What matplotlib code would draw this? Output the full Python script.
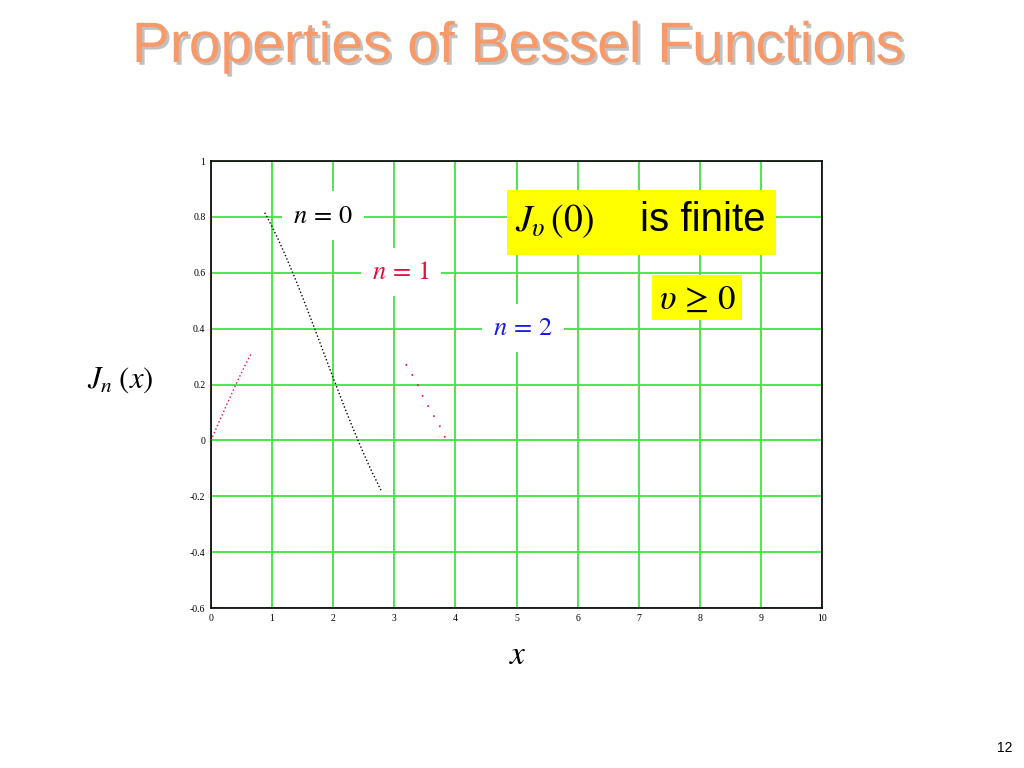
import matplotlib
matplotlib.use('Agg')
import matplotlib.pyplot as plt
import matplotlib.patheffects as pe
from matplotlib.patches import Rectangle

plt.rcParams['mathtext.fontset'] = 'stix'

# values (only the visible dotted pieces)
j0_x = [0.88, 0.9, 1.0, 1.1, 1.2, 1.3, 1.4, 1.5, 1.6, 1.7, 1.8, 1.9, 2.0,
        2.1, 2.2, 2.3, 2.4, 2.5, 2.6, 2.7, 2.78]
j0_y = [0.815, 0.807, 0.765, 0.720, 0.671, 0.620, 0.567, 0.512, 0.455, 0.398,
        0.340, 0.282, 0.224, 0.167, 0.110, 0.056, 0.003, -0.048, -0.097,
        -0.142, -0.178]

j1a_x = [0.0, 0.05, 0.1, 0.15, 0.2, 0.25, 0.3, 0.35, 0.4, 0.45, 0.5, 0.55,
         0.6, 0.65]
j1a_y = [0.0, 0.025, 0.050, 0.075, 0.099, 0.124, 0.148, 0.172, 0.196, 0.220,
         0.242, 0.265, 0.287, 0.308]

j1b_x = [3.19, 3.37, 3.47, 3.58, 3.72, 3.88]
j1b_y = [0.273, 0.205, 0.155, 0.112, 0.062, -0.013]

x_ticks = [0, 1, 2, 3, 4, 5, 6, 7, 8, 9, 10]
y_ticks = [-0.6, -0.4, -0.2, 0, 0.2, 0.4, 0.6, 0.8, 1]
y_tick_labels = ['-0.6', '-0.4', '-0.2', '0', '0.2', '0.4', '0.6', '0.8', '1']

green = '#3ee63e'
red = '#e0103c'
blue = '#1a1ae6'

fig = plt.figure(figsize=(10.24, 7.68), dpi=100)
ax = fig.add_axes([0.206, 0.2083, 0.597, 0.582])

ax.plot(j0_x, j0_y, color='black', lw=1.0, ls=(0, (1, 1.6)), zorder=3)
ax.plot(j1a_x, j1a_y, color=red, lw=1.0, ls=(0, (1, 1.8)), zorder=3)
ax.plot(j1b_x, j1b_y, color=red, lw=1.2, ls=(0, (1, 6)), zorder=3)

ax.set_xlim(0, 10)
ax.set_ylim(-0.6, 1)
ax.set_xticks(x_ticks)
ax.set_yticks(y_ticks)
ax.set_yticklabels(y_tick_labels)
ax.grid(True, color=green, lw=1.3)
ax.set_axisbelow(True)
ax.tick_params(length=0, labelsize=7, pad=4)
for lab in ax.get_xticklabels() + ax.get_yticklabels():
    lab.set_fontfamily('Liberation Serif')
for sp in ax.spines.values():
    sp.set_color('black')
    sp.set_linewidth(1.2)

# curve labels with white boxes over the grid
lbl = dict(fontsize=19, ha='center', va='center', zorder=4,
           bbox=dict(facecolor='white', edgecolor='none', pad=8))
ax.text(1.83, 0.805, r'$n\,=\,0$', color='black', **lbl)
ax.text(3.11, 0.603, r'$n\,=\,1$', color=red, **lbl)
ax.text(5.11, 0.402, r'$n\,=\,2$', color=blue, **lbl)

# yellow notes
ax.add_patch(Rectangle((4.84, 0.663), 4.41, 0.233, facecolor='#ffff00',
                       edgecolor='none', zorder=4))
ax.text(4.98, 0.785, r'$J_{\upsilon}\,(0)$', fontsize=27, ha='left', va='center', zorder=5)
ax.text(7.02, 0.788, 'is finite', fontsize=29, family='Liberation Sans',
        ha='left', va='center', zorder=5)
ax.add_patch(Rectangle((7.22, 0.431), 1.47, 0.161, facecolor='#ffff00',
                       edgecolor='none', zorder=4))
ax.text(7.955, 0.508, r'$\upsilon\,\geq\,0$', fontsize=25, ha='center', va='center', zorder=5)

# axis titles
fig.text(0.117, 1 - 380 / 768, r'$J_n\;(x)$', fontsize=22, ha='center', va='center')
fig.text(518 / 1024, 1 - 655 / 768, r'$x$', fontsize=24, ha='center', va='center')

# slide title and page number
fig.text(518 / 1024, 1 - 62 / 768, 'Properties of Bessel Functions', fontsize=41,
         family='Liberation Sans', color='#f8996a', ha='center', va='baseline',
         path_effects=[pe.withSimplePatchShadow(offset=(2, -2),
                                                shadow_rgbFace='#999999', alpha=0.6)])
fig.text(1005 / 1024, 1 - 748 / 768, '12', fontsize=10, family='Liberation Sans',
         ha='center', va='center')

fig.savefig('out.png', dpi=100)
